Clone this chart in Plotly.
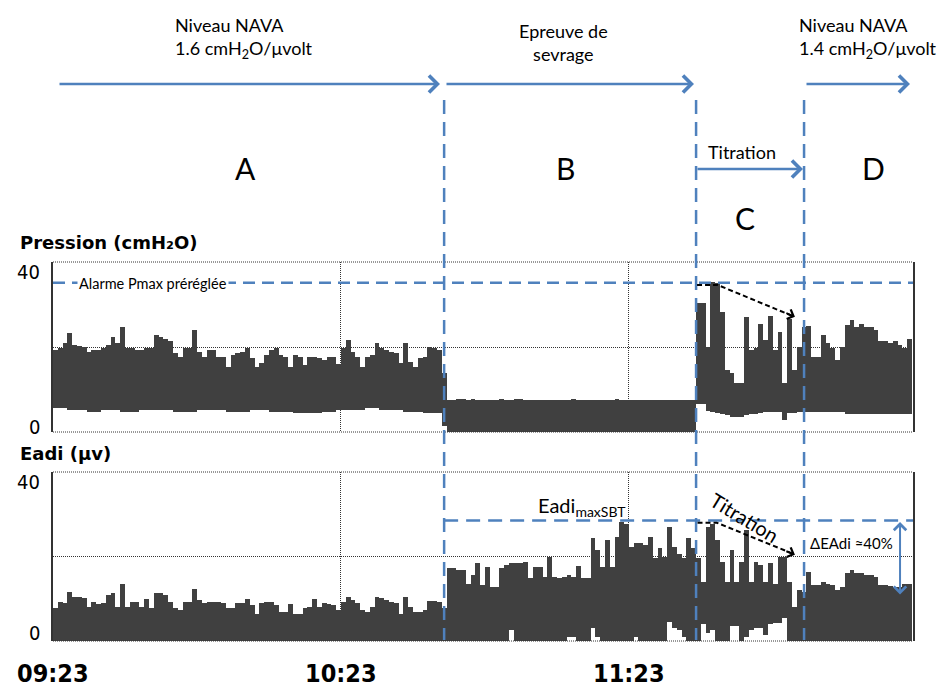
import plotly.graph_objects as go

# une barre par minute depuis 09:23
pression_haute = [
    19.3, 19.8, 21.0, 23.2, 20.5, 20.2, 20.0, 18.9, 19.3, 19.3,
    19.7, 20.5, 22.4, 20.9, 24.6, 19.7, 19.7, 19.3, 19.3, 19.7,
    19.7, 22.8, 22.4, 22.0, 21.3, 18.5, 17.7, 19.7, 19.7, 24.0,
    18.9, 17.7, 19.3, 19.3, 17.7, 17.7, 15.4, 18.1, 18.5, 18.9,
    19.7, 17.3, 15.4, 16.2, 18.1, 19.3, 19.7, 18.1, 17.7, 15.4,
    18.1, 17.7, 15.8, 17.7, 17.7, 17.3, 16.9, 17.7, 17.7, 16.0,
    19.7, 21.6, 18.9, 17.7, 15.4, 17.7, 18.1, 20.9, 19.7, 19.3,
    18.9, 18.5, 16.2, 20.9, 16.5, 15.4, 17.3, 17.7, 20.0, 19.7,
    19.3, 13.8, 7.5, 7.5, 7.8, 7.8, 7.5, 7.8, 7.5, 7.5,
    7.5, 7.6, 7.6, 7.8, 7.6, 7.6, 7.8, 7.8, 7.6, 7.6,
    7.6, 7.6, 7.6, 7.6, 7.6, 7.6, 7.6, 7.6, 7.8, 7.6,
    7.6, 7.6, 7.6, 7.6, 7.6, 7.6, 7.6, 7.8, 7.6, 7.6,
    7.6, 7.6, 7.6, 7.6, 7.6, 7.6, 7.6, 7.6, 7.6, 7.6,
    7.6, 7.6, 7.6, 7.6, 30.3, 30.3, 20.0, 35.4, 35.0, 28.3,
    14.6, 13.8, 11.5, 11.5, 27.0, 19.3, 19.7, 25.4, 21.6, 27.3,
    19.3, 23.6, 11.5, 26.7, 14.6, 20.0, 24.8, 24.9, 17.7, 17.7,
    22.8, 20.9, 19.7, 16.9, 20.0, 25.2, 26.4, 24.8, 25.4, 24.6,
    24.8, 24.0, 21.3, 21.3, 21.0, 21.3, 20.5, 19.7, 22.0,
]
pression_basse = [
    5.6, 5.6, 5.6, 5.2, 5.2, 5.2, 5.2, 4.8, 4.8, 4.8,
    5.2, 5.2, 5.2, 5.2, 4.8, 4.8, 4.8, 4.8, 5.2, 5.2,
    5.2, 5.2, 5.2, 5.2, 5.2, 4.8, 4.8, 4.8, 4.8, 4.8,
    5.2, 5.2, 5.2, 5.2, 5.2, 5.2, 4.8, 4.8, 4.8, 4.8,
    4.8, 5.2, 5.2, 5.2, 5.2, 4.8, 4.8, 4.8, 4.8, 4.8,
    4.4, 4.4, 4.4, 4.4, 4.4, 4.4, 4.8, 4.8, 4.8, 5.2,
    5.2, 5.2, 5.2, 5.2, 5.2, 5.6, 5.6, 5.6, 5.2, 5.2,
    5.2, 5.2, 5.2, 4.8, 4.8, 4.8, 4.8, 4.4, 4.4, 4.4,
    4.4, 1.5, 0, 0, 0, 0, 0, 0, 0, 0,
    0, 0, 0, 0, 0, 0, 0, 0, 0, 0,
    0, 0, 0, 0, 0, 0, 0, 0, 0, 0,
    0, 0, 0, 0, 0, 0, 0, 0, 0, 0,
    0, 0, 0, 0, 0, 0, 0, 0, 0, 0,
    0, 0, 0, 0, 6.7, 6.7, 5.0, 4.8, 4.5, 4.2,
    3.9, 3.6, 3.6, 3.6, 3.9, 4.2, 4.2, 4.5, 4.8, 4.8,
    4.8, 4.8, 2.8, 4.5, 4.5, 4.8, 4.8, 4.8, 4.8, 4.8,
    4.8, 4.8, 4.8, 4.8, 4.8, 4.2, 4.2, 4.2, 4.2, 4.2,
    4.2, 4.2, 4.2, 4.2, 4.2, 4.2, 4.2, 4.2, 4.2,
]
eadi_haute = [
    7.7, 9.3, 8.9, 11.7, 10.5, 10.3, 10.1, 8.1, 9.3, 8.8,
    8.9, 10.9, 11.3, 8.1, 13.5, 8.1, 9.3, 9.3, 8.1, 9.9,
    7.7, 11.3, 11.3, 10.9, 9.3, 7.7, 7.3, 9.3, 9.3, 12.2,
    9.7, 8.9, 9.3, 9.3, 9.3, 8.9, 7.7, 7.7, 8.9, 8.9,
    9.9, 8.5, 6.5, 8.9, 9.3, 9.3, 8.5, 6.9, 6.9, 8.8,
    6.5, 6.5, 7.7, 8.1, 9.9, 8.1, 8.9, 8.8, 8.5, 7.3,
    9.3, 10.5, 9.7, 8.9, 7.3, 6.9, 8.1, 10.5, 10.1, 9.7,
    9.3, 8.9, 6.4, 10.5, 8.1, 6.9, 6.9, 7.3, 9.5, 9.5,
    9.3, 7.7, 17.2, 17.2, 16.8, 16.8, 13.6, 15.6, 18.4, 13.3,
    17.6, 12.9, 12.9, 17.2, 18.0, 18.4, 18.4, 18.4, 18.8, 14.8,
    17.6, 17.6, 15.2, 20.0, 15.2, 14.8, 15.2, 15.6, 15.2, 17.8,
    14.8, 14.8, 24.3, 21.5, 17.6, 23.9, 17.6, 24.7, 28.2, 27.8,
    22.3, 23.1, 23.1, 22.7, 24.7, 19.6, 21.9, 20.0, 27.0, 22.3,
    20.7, 19.6, 24.3, 21.9, 19.6, 14.0, 27.0, 27.8, 23.9, 18.8,
    14.0, 21.5, 14.0, 18.8, 26.3, 14.0, 18.8, 18.0, 14.0, 18.4,
    13.6, 20.0, 20.0, 14.0, 8.1, 12.1, 11.7, 16.4, 13.3, 13.3,
    14.0, 13.6, 13.3, 12.1, 12.9, 16.2, 16.8, 16.0, 16.0, 15.6,
    15.6, 15.2, 13.3, 13.3, 13.1, 12.9, 12.9, 13.5, 13.5,
]
eadi_basse = [
    0, 0, 0, 0, 0, 0, 0, 0, 0, 0,
    0, 0, 0, 0, 0, 0, 0, 0, 0, 0,
    0, 0, 0, 0, 0, 0, 0, 0, 0, 0,
    0, 0, 0, 0, 0, 0, 0, 0, 0, 0,
    0, 0, 0, 0, 0, 0, 0, 0, 0, 0,
    0, 0, 0, 0, 0, 0, 0, 0, 0, 0,
    0, 0, 0, 0, 0, 0, 0, 0, 0, 0,
    0, 0, 0, 0, 0, 0, 0, 0, 0, 0,
    0, 0, 0, 0, 0, 0, 0, 0, 0, 0,
    0, 0, 0, 0, 0, 2.5, 0, 0, 0, 0,
    0, 0, 0, 0, 0, 0, 0, 1.0, 1.0, 0,
    0, 0, 3.0, 1.0, 0, 0, 0, 0, 0, 0,
    0, 1.0, 0, 0, 0, 0, 0, 0, 4.6, 3.0,
    2.6, 1.0, 0, 0, 0, 4.0, 2.0, 2.5, 0, 0,
    0, 3.5, 3.5, 0, 1.0, 2.5, 3.0, 3.0, 1.5, 4.0,
    4.2, 4.2, 5.4, 0, 0, 0, 0, 0, 0, 0,
    0, 0, 0, 0, 0, 0, 0, 0, 0, 0,
    0, 0, 0, 0, 0, 0, 0, 0, 0,
]
minutes = list(range(len(pression_haute)))

heures = ["09:23", "10:23", "11:23", "12:23"]
heures_min = [0, 60, 120, 180]

# repères (minutes / unités des axes)
debut_sbt = 81.5
debut_titration = 134
debut_d = 156.5
alarme_pmax = 35.1
eadi_max_sbt = 28.5

W, H = 951, 687
OFF = 8  # marge du body de la page html
BLEU = "#4F81BD"
GRIS = "#404040"
TXT = "Lato, Open Sans, sans-serif"
COND = "DejaVu Sans Condensed, Liberation Sans Narrow, Arial Narrow, sans-serif"


def px(x):
    return (x - OFF) / W


def py(y):
    return 1 - (y - OFF) / H


centres = [m + 0.5 for m in minutes]

fig = go.Figure()
fig.add_trace(go.Bar(x=centres, y=[h - b for h, b in zip(pression_haute, pression_basse)],
                     base=pression_basse, width=1, xaxis="x", yaxis="y",
                     marker=dict(color=GRIS, line=dict(width=0)), hoverinfo="skip"))
fig.add_trace(go.Bar(x=centres, y=[h - b for h, b in zip(eadi_haute, eadi_basse)],
                     base=eadi_basse, width=1, xaxis="x2", yaxis="y2",
                     marker=dict(color=GRIS, line=dict(width=0)), hoverinfo="skip"))

xax = dict(domain=[px(53), px(913)], range=[0, 179.2], tickvals=[60, 120],
           showticklabels=False, ticks="", showgrid=True, gridcolor="#333",
           griddash="1px,1px", gridwidth=1, zeroline=False, showline=False)
yax = dict(range=[0, 40], tickvals=[20], showticklabels=False, ticks="",
           showgrid=True, gridcolor="#333", griddash="1px,1px", gridwidth=1,
           zeroline=False, showline=True, linecolor="#333", linewidth=2, mirror=True)

fig.update_layout(
    width=W, height=H, margin=dict(l=0, r=0, t=0, b=0),
    paper_bgcolor="white", plot_bgcolor="white", showlegend=False, bargap=0,
    xaxis=dict(xax, anchor="y"),
    xaxis2=dict(xax, anchor="y2"),
    yaxis=dict(yax, domain=[py(432), py(262)], anchor="x"),
    yaxis2=dict(yax, domain=[py(641), py(472)], anchor="x2"),
)

# bords haut/bas pointillés
for ya in ["y", "y2"]:
    for v in [0, 1]:
        fig.add_shape(type="line", xref="x domain" if ya == "y" else "x2 domain",
                      yref=ya + " domain", x0=0, x1=1, y0=v, y1=v,
                      line=dict(color="#333", width=1, dash="1px,1px"))

# lignes de phase verticales
for xv in [debut_sbt, debut_titration, debut_d]:
    fig.add_shape(type="line", xref="x", yref="paper", x0=xv, x1=xv,
                  y0=py(100), y1=py(640), line=dict(color=BLEU, width=2.5, dash="14px,8px"))

# alarme Pmax et Eadi max SBT
fig.add_shape(type="line", xref="x", yref="y", x0=0, x1=179.2, y0=alarme_pmax, y1=alarme_pmax,
              line=dict(color=BLEU, width=2.5, dash="12px,7px"))
fig.add_shape(type="line", xref="x2", yref="y2", x0=debut_sbt, x1=179.2,
              y0=eadi_max_sbt, y1=eadi_max_sbt, line=dict(color=BLEU, width=2.5, dash="14px,8px"))

# flèches titration noires pointillées
fig.add_shape(type="path", xref="x", yref="y", path="M 134.2,34.6 L 138.5,34.6 L 154.3,27.2",
              line=dict(color="black", width=2, dash="5px,3px"))
fig.add_annotation(xref="x", yref="y", axref="x", ayref="y", x=154.6, y=27.1, ax=152.5, ay=28.1,
                   text="", showarrow=True, arrowhead=4, arrowwidth=2, arrowcolor="black")
fig.add_shape(type="path", xref="x2", yref="y2", path="M 134.3,28.0 L 138.3,28.0 L 154.3,20.6",
              line=dict(color="black", width=2, dash="5px,3px"))
fig.add_annotation(xref="x2", yref="y2", axref="x2", ayref="y2", x=154.6, y=20.4, ax=152.5, ay=21.4,
                   text="", showarrow=True, arrowhead=4, arrowwidth=2, arrowcolor="black")

# delta Eadi
fig.add_annotation(xref="x2", yref="y2", axref="x2", ayref="y2", x=176.5, y=11.0, ax=176.5,
                   ay=eadi_max_sbt, text="", showarrow=True, arrowside="end+start",
                   arrowhead=4, startarrowhead=4, arrowwidth=2, arrowsize=1.2,
                   startarrowsize=1.2, arrowcolor=BLEU)

# flèches bleues du haut
for x0p, x1p, yp in [(58, 440, 84), (445, 694, 84), (805, 910, 84), (696, 803, 169)]:
    fig.add_annotation(xref="paper", yref="paper", x=px(x1p), y=py(yp), ax=-(x1p - x0p), ay=0,
                       text="", showarrow=True, arrowhead=4, arrowwidth=2.5, arrowsize=1.3,
                       arrowcolor=BLEU)


def texte(t, x, y, size, xanchor="center", family=TXT, **kw):
    fig.add_annotation(xref="paper", yref="paper", x=px(x), y=py(y), text=t, showarrow=False,
                       xanchor=xanchor, yanchor="middle", font=dict(family=family, size=size,
                                                                    color="black"), **kw)


texte("Niveau NAVA<br>1.6 cmH<sub>2</sub>O/μvolt", 173, 38, 18, xanchor="left", align="left")
texte("Epreuve de<br>sevrage", 563, 42, 18)
texte("Niveau NAVA<br>1.4 cmH<sub>2</sub>O/μvolt", 797, 38, 18, xanchor="left", align="left")
texte("Titration", 742, 152, 18)
for lettre, lx, ly in [("A", 245, 168), ("B", 565, 168), ("C", 745, 218), ("D", 873, 168)]:
    texte(lettre, lx, ly, 30)

fig.add_annotation(xref="paper", yref="paper", x=px(18), y=py(242), text="<b>Pression (cmH₂O)</b>",
                   showarrow=False, xanchor="left", yanchor="middle",
                   font=dict(family="DejaVu Sans", size=18, color="black"))
fig.add_annotation(xref="paper", yref="paper", x=px(18), y=py(453), text="<b>Eadi (μv)</b>",
                   showarrow=False, xanchor="left", yanchor="middle",
                   font=dict(family="DejaVu Sans", size=18, color="black"))

texte("Alarme Pmax préréglée", 77, 283, 14.5, xanchor="left", bgcolor="white")
texte("Eadi<sub>maxSBT</sub>", 536, 507, 20, xanchor="left")
texte("Titration", 744, 517, 20, textangle=31)
texte("ΔEAdi ≈40%", 851, 543, 15)

# graduations 0 / 40
for ya, ytop, ybas in [("y", 272, 427), ("y2", 482, 633)]:
    texte("40", 42, ytop, 20, xanchor="right", family=COND)
    texte("0", 42, ybas, 20, xanchor="right", family=COND)

# heures
for h, m in zip(heures, heures_min):
    fig.add_annotation(xref="x2", yref="paper", x=m, y=py(673), text="<b>" + h + "</b>",
                       showarrow=False, xanchor="center", yanchor="middle",
                       font=dict(family=COND, size=25, color="black"))

fig.write_html("out.html")
